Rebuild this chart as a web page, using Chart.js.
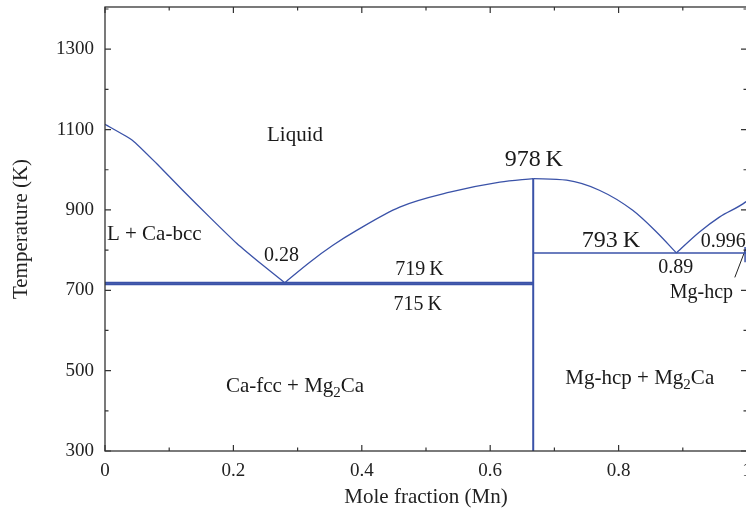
<!DOCTYPE html>
<html>
<head>
<meta charset="utf-8">
<script src="https://cdn.jsdelivr.net/npm/chart.js@4.4.1/dist/chart.umd.min.js"></script>
<style>
  html, body { margin: 0; padding: 0; background: #fff; overflow: hidden; }
  #wrap { width: 760px; height: 514px; }
</style>
</head>
<body>
<div id="wrap"><canvas id="phaseChart" width="760" height="514"></canvas></div>
<script>
// tick labels
const xTicks = [0, 0.2, 0.4, 0.6, 0.8, 1];
const yTicks = [300, 500, 700, 900, 1100, 1300];

// liquidus branches: mole fraction Mn vs temperature (K)
const caLiqX = [0, 0.043, 0.08, 0.121, 0.163, 0.205, 0.246, 0.28];
const caLiqT = [1113, 1073, 1016, 949, 882, 817, 762, 719];
const midLiqX = [0.28, 0.319, 0.355, 0.392, 0.459, 0.537, 0.615, 0.667];
const midLiqT = [719, 770, 812, 849, 907, 944, 969, 978];
const rightLiqX = [0.667, 0.719, 0.77, 0.822, 0.859, 0.89];
const rightLiqT = [978, 974, 949, 899, 845, 793];
const mgLiqX = [0.89, 0.926, 0.957, 0.998, 1.0];
const mgLiqT = [793, 845, 882, 920, 923];

// invariant lines
const eut1X = [0, 0.667];
const eut1T = [719, 719];
const eut2X = [0, 0.667];
const eut2T = [715, 715];
const compX = [0.667, 0.667];
const compT = [300, 978];
const eut3X = [0.667, 1.0];
const eut3T = [793, 793];
const solvX = [0.997, 0.997];
const solvT = [808, 770];
const pointerX = [0.981, 0.998];
const pointerT = [732, 803];

// region and point labels
const labels = [
  { parts: [['Liquid']], x: 0.296, t: 1086, size: 21 },
  { parts: [['L + Ca-bcc']], x: 0.003, t: 839, size: 21, align: 'left' },
  { parts: [['0.28']], x: 0.275, t: 785, size: 20 },
  { parts: [['719\u2009K']], x: 0.49, t: 752, size: 20 },
  { parts: [['715\u2009K']], x: 0.487, t: 663, size: 20 },
  { parts: [['978\u2009K']], x: 0.668, t: 1024, size: 24 },
  { parts: [['793\u2009K']], x: 0.788, t: 824, size: 24 },
  { parts: [['0.89']], x: 0.889, t: 757, size: 20 },
  { parts: [['0.996']], x: 0.928, t: 822, size: 20, align: 'left' },
  { parts: [['Mg-hcp']], x: 0.929, t: 695, size: 20 },
  { parts: [['Ca-fcc + Mg'], ['2', 1], ['Ca']], x: 0.296, t: 461, size: 21 },
  { parts: [['Mg-hcp + Mg'], ['2', 1], ['Ca']], x: 0.833, t: 481, size: 21 }
];

const BLUE = '#3a52a8';
const FONT = '"Liberation Serif", "DejaVu Serif", serif';
Chart.defaults.font.family = FONT;
Chart.defaults.color = '#222';

function pts(xs, ts) {
  return xs.map((x, i) => ({ x: x, y: ts[i] }));
}

function line(xs, ts, opts) {
  return Object.assign({
    data: pts(xs, ts),
    showLine: true,
    borderColor: BLUE,
    borderWidth: 1.3,
    pointRadius: 0,
    fill: false,
    tension: 0
  }, opts || {});
}

// liquidus curves are smoothed, straight lines stay straight
const smooth = { cubicInterpolationMode: 'monotone' };

function drawParts(ctx, parts, x, y, size, align) {
  const sub = Math.round(size * 0.7);
  let total = 0;
  const widths = parts.map(p => {
    ctx.font = (p[1] ? sub : size) + 'px ' + FONT;
    const w = ctx.measureText(p[0]).width;
    total += w;
    return w;
  });
  let cx = align === 'left' ? x : x - total / 2;
  parts.forEach((p, i) => {
    ctx.font = (p[1] ? sub : size) + 'px ' + FONT;
    ctx.fillText(p[0], cx, p[1] ? y + size * 0.3 : y);
    cx += widths[i];
  });
}

// frame, inward ticks and text labels
const decorations = {
  id: 'decorations',
  afterDatasetsDraw(chart) {
    const { ctx, chartArea: a, scales: { x, y } } = chart;
    ctx.save();
    ctx.strokeStyle = '#333';
    ctx.lineWidth = 1.3;
    ctx.strokeRect(a.left, a.top, a.right - a.left, a.bottom - a.top);

    ctx.lineWidth = 1.2;
    ctx.beginPath();
    for (let i = 0; i <= 10; i++) {
      const px = x.getPixelForValue(i / 10);
      const len = i % 2 === 0 ? 6 : 3.5;
      ctx.moveTo(px, a.bottom); ctx.lineTo(px, a.bottom - len);
      ctx.moveTo(px, a.top); ctx.lineTo(px, a.top + len);
    }
    for (let v = 300; v <= 1400; v += 100) {
      const py = y.getPixelForValue(v);
      const len = (v - 300) % 200 === 0 ? 6 : 3.5;
      ctx.moveTo(a.left, py); ctx.lineTo(a.left + len, py);
      ctx.moveTo(a.right, py); ctx.lineTo(a.right - len, py);
    }
    ctx.stroke();

    ctx.fillStyle = '#1a1a1a';
    ctx.textBaseline = 'middle';
    ctx.textAlign = 'left';
    labels.forEach(l => {
      drawParts(ctx, l.parts, x.getPixelForValue(l.x), y.getPixelForValue(l.t), l.size, l.align);
    });
    ctx.restore();
  }
};

new Chart(document.getElementById('phaseChart'), {
  type: 'scatter',
  data: {
    datasets: [
      line(caLiqX, caLiqT, { tension: 0.15 }),
      line(midLiqX, midLiqT, smooth),
      line(rightLiqX, rightLiqT, smooth),
      line(mgLiqX, mgLiqT, smooth),
      line(eut1X, eut1T, { borderWidth: 2 }),
      line(eut2X, eut2T, { borderWidth: 2 }),
      line(compX, compT, { borderWidth: 2 }),
      line(eut3X, eut3T, { borderWidth: 1.5 }),
      line(solvX, solvT, { borderWidth: 1.5 }),
      line(pointerX, pointerT, { borderColor: '#222', borderWidth: 1 })
    ]
  },
  options: {
    responsive: false,
    animation: false,
    layout: { padding: { top: 7, right: 13, left: 0, bottom: 0 } },
    plugins: { legend: { display: false }, tooltip: { enabled: false } },
    scales: {
      x: {
        type: 'linear',
        min: 0,
        max: 1,
        afterBuildTicks: s => { s.ticks = xTicks.map(v => ({ value: v })); },
        afterFit: s => { s.height = 63; s.paddingLeft = 0; s.paddingRight = 0; },
        grid: { display: false, drawTicks: false },
        border: { display: false },
        ticks: { font: { size: 19 }, padding: 9, maxRotation: 0, autoSkip: false, callback: v => String(v) },
        title: { display: true, text: 'Mole fraction (Mn)', font: { size: 21 }, padding: { bottom: 4 } }
      },
      y: {
        type: 'linear',
        min: 300,
        max: 1405,
        afterBuildTicks: s => { s.ticks = yTicks.map(v => ({ value: v })); },
        afterFit: s => { s.width = 105; s.paddingTop = 0; s.paddingBottom = 0; },
        grid: { display: false, drawTicks: false },
        border: { display: false },
        ticks: { font: { size: 19 }, padding: 11, autoSkip: false, callback: v => String(v) },
        title: { display: true, text: 'Temperature (K)', font: { size: 21 }, padding: { top: 9 } }
      }
    }
  },
  plugins: [decorations]
});
</script>
</body>
</html>
